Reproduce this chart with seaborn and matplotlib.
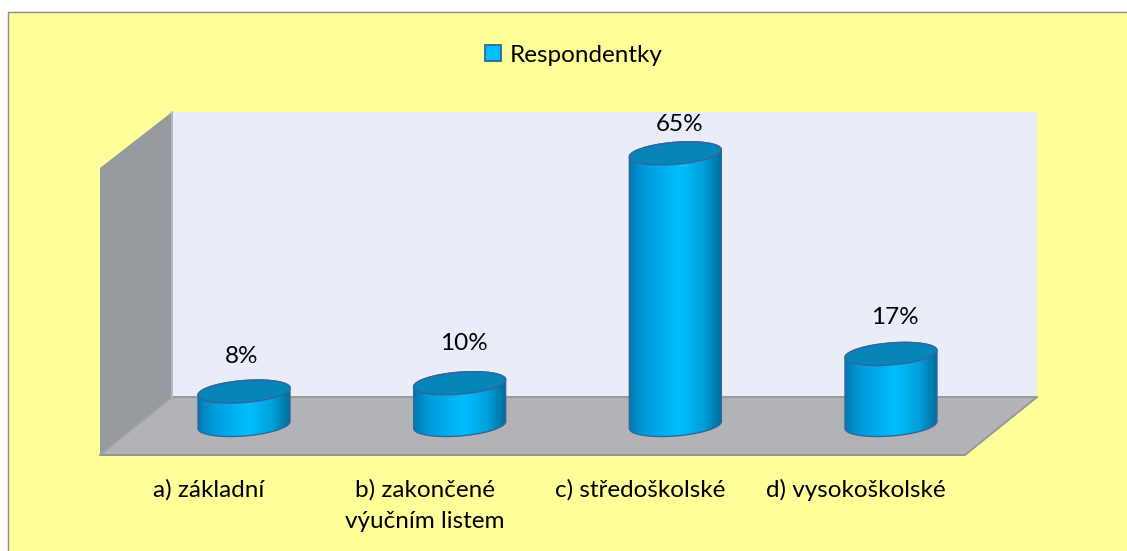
import numpy as np
import pandas as pd
import matplotlib
matplotlib.use("Agg")
import matplotlib.pyplot as plt
from matplotlib.colors import LinearSegmentedColormap
from matplotlib.patches import Polygon, PathPatch
from matplotlib.path import Path
import seaborn as sns

categories = ["a) základní", "b) zakončené\nvýučním listem", "c) středoškolské", "d) vysokoškolské"]
values = [8, 10, 65, 17]
series_name = "Respondentky"

W, H = 1127, 551
YELLOW = "#FFFF99"
BLUE = "#00BFFF"
EDGE = "#34659C"
FS = 17.5

# pixel size of one category / one percent in the reference
STEP_X = 215.67
STEP_Y = 4.18
ZERO_X, ZERO_Y = 244, 425
AX_L, AX_R, AX_T, AX_B = 100, 1037, 112, 455
BAR_W = 92 / STEP_X

sns.set_theme(style="white")
plt.rcParams["font.family"] = ["Lato", "DejaVu Sans"]

fig = plt.figure(figsize=(W / 100, H / 100), dpi=100, facecolor="white")
ax = fig.add_axes([AX_L / W, 1 - AX_B / H, (AX_R - AX_L) / W, (AX_B - AX_T) / H])
ax.patch.set_visible(False)


def fx(px, py):
    return (px / W, 1 - py / H)


def backdrop(points, color, z=-5, edge="none", lw=0):
    fig.add_artist(Polygon([fx(*p) for p in points], closed=True, transform=fig.transFigure,
                           facecolor=color, edgecolor=edge, linewidth=lw, zorder=z))


# chart area, frame only on the top and left
backdrop([(8, 12), (1127, 12), (1127, 551), (8, 551)], YELLOW, z=-7)
for a, b in [((7.5, 551), (7.5, 11.5)), ((7.5, 11.5), (1127, 11.5))]:
    fig.add_artist(plt.Line2D(*zip(fx(*a), fx(*b)), transform=fig.transFigure,
                              color="#8C8C8C", lw=1, zorder=-6))

# 3D box behind the bars
backdrop([(172, 112), (1037, 112), (1037, 397), (172, 397)], "#E9EDF7")
backdrop([(100, 168), (172, 112), (172, 397), (100, 455)], "#96999D")
backdrop([(172, 397), (1037, 397), (965, 455), (100, 455)], "#B1B3B7")
for a, b, c in [((172, 397), (1037, 397), "#97999C"), ((100, 455), (965, 455), "#909295"),
                ((965, 455), (1037, 397), "#97999C"), ((100, 455), (172, 397), "#A0A2A5"),
                ((172, 112), (172, 397), "#B5B8BD")]:
    fig.add_artist(plt.Line2D(*zip(fx(*a), fx(*b)), transform=fig.transFigure,
                              color=c, lw=1.4, zorder=-4))

df = pd.DataFrame({"kategorie": categories, "hodnota": values})
sns.barplot(data=df, x="kategorie", y="hodnota", color=BLUE, width=BAR_W, ax=ax,
            saturation=1, label=series_name, edgecolor=EDGE, linewidth=1, zorder=1, legend=False)

handles, labels = ax.get_legend_handles_labels()
if ax.get_legend() is not None:
    ax.get_legend().remove()

for s in ax.spines.values():
    s.set_visible(False)
ax.set_xlabel("")
ax.set_ylabel("")
ax.set_yticks([])
# the category labels sit on the front edge of the floor, left of the bars
ax.set_xticks(np.arange(len(categories)) - 35 / STEP_X, categories)
ax.tick_params(axis="x", length=0, pad=17.5, labelsize=FS, labelcolor="black")
for t in ax.get_xticklabels():
    t.set_linespacing(1.6)
    t.set_verticalalignment("top")

body_cmap = LinearSegmentedColormap.from_list(
    "body", [(0, "#0078B0"), (0.15, "#0099D8"), (0.55, "#00BFFF"), (0.8, "#00A0DC"), (1, "#006A98")])
grad = np.linspace(0, 1, 256)[None, :]

A = 0.5 * BAR_W
B = 11.0 / STEP_Y
SHEAR = 3.5 / STEP_Y


def rim(cx, cy, t):
    return np.column_stack([cx + A * np.cos(t), cy + B * np.sin(t) + SHEAR * np.cos(t)])


# turn each flat seaborn bar into a cylinder
for bar, val in zip(list(ax.patches), values):
    cx = bar.get_x() + bar.get_width() / 2
    bar.set_visible(False)
    lower = rim(cx, 0, np.linspace(np.pi, 2 * np.pi, 80))
    upper = rim(cx, val, np.linspace(0, np.pi, 80))
    outline = np.vstack([lower, upper, lower[:1]])
    body = PathPatch(Path(outline), facecolor="none", edgecolor=EDGE, lw=1, zorder=3)
    ax.add_patch(body)
    im = ax.imshow(grad, extent=(cx - A, cx + A, -B - SHEAR, val + B), cmap=body_cmap,
                   aspect="auto", zorder=2, interpolation="bilinear")
    im.set_clip_path(body)
    top = rim(cx, val, np.linspace(0, 2 * np.pi, 120))
    ax.add_patch(Polygon(top, closed=True, facecolor="#0585BA", edgecolor=EDGE, lw=1, zorder=4))

ax.set_xlim((AX_L - ZERO_X) / STEP_X, (AX_R - ZERO_X) / STEP_X)
ax.set_ylim((ZERO_Y - AX_B) / STEP_Y, (ZERO_Y - AX_T) / STEP_Y)

# value labels, nudged as in the original
for i, (val, nudge) in enumerate(zip(values, [(-2, 35), (4, 40), (4, 29), (4, 36)])):
    ax.annotate(f"{val}%", (i, val), xytext=(nudge[0] * 0.72, nudge[1] * 0.72),
                textcoords="offset points", ha="center", va="center",
                fontsize=FS, color="black", zorder=6, annotation_clip=False)

leg = fig.legend(handles, labels, loc="center", bbox_to_anchor=fx(574, 55), frameon=False,
                 fontsize=FS, handlelength=0.65, handleheight=0.65, handletextpad=0.35,
                 labelcolor="black")
for h in leg.legend_handles:
    h.set_visible(True)
    h.set_facecolor(BLUE)
    h.set_edgecolor(EDGE)
    h.set_linewidth(1.3)

fig.savefig("out.png", dpi=100, facecolor="white")
